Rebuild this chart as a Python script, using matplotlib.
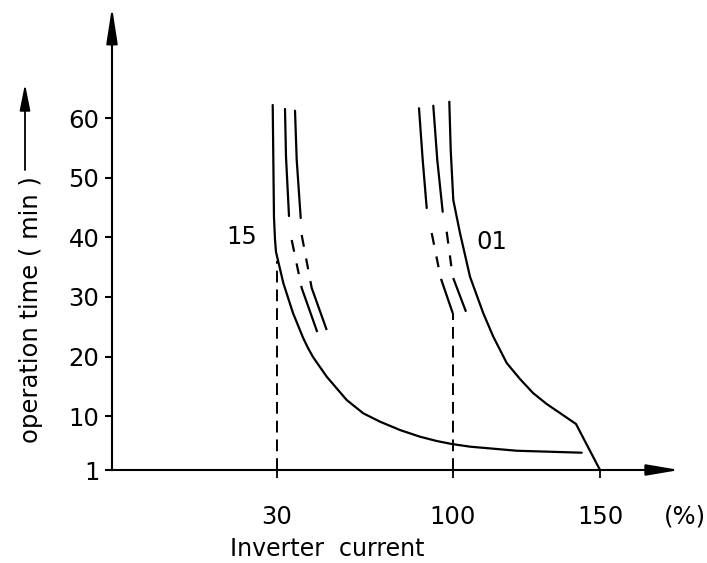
import numpy as np
import matplotlib
matplotlib.use("Agg")
import matplotlib.pyplot as plt
from matplotlib.patches import FancyArrowPatch

plt.rcParams['font.family'] = ['DejaVu Sans']
plt.rcParams['lines.scale_dashes'] = False

# ---------------- data ----------------
y_ticks = [1, 10, 20, 30, 40, 50, 60]
x_ticks = [30, 100, 150]
x_tick_labels = ["30", "100", "150"]

# curve "15"
c15_x = [29.22, 29.45, 29.64, 29.82, 32.51, 36.36, 40.46, 42.33, 44.32, 49.77,
         57.72, 64.32, 70.97, 78.92, 86.88, 93.52, 99.48, 105.78, 121.67, 143.78]
c15_y = [62.18, 43.41, 39.55, 37.54, 32.34, 27.31, 23.07, 21.45, 19.94, 16.64,
         12.73, 10.50, 9.10, 7.70, 6.58, 5.86, 5.36, 4.91, 4.23, 3.90]

# two companion lines right of "15" (solid upper part, dashed lower part)
b_solid_x = [33.18, 33.58, 34.77]
b_solid_y = [61.51, 53.51, 43.57]
b_dash_x = [35.85, 39.82, 46.00]
b_dash_y = [39.55, 31.51, 24.13]

c_solid_x = [37.16, 37.84, 39.43]
c_solid_y = [61.22, 52.96, 43.24]
c_dash_x = [39.82, 43.80, 49.77]
c_dash_y = [40.39, 31.51, 24.47]

# curve "01"
c01_x = [98.53, 99.09, 100.10, 102.38, 105.78, 110.31, 113.71, 118.27, 122.79,
         127.21, 131.87, 136.39, 141.84, 150.0]
c01_y = [62.73, 54.64, 46.25, 40.72, 33.40, 27.26, 23.34, 18.93, 16.25,
         13.91, 12.06, 10.55, 8.71, 1.0]

# two companion lines left of "01"
d_solid_x = [86.48, 87.95, 89.54]
d_solid_y = [61.63, 52.96, 44.91]
d_dash_x = [91.53, 95.11, 99.88]
d_dash_y = [40.72, 33.18, 27.31]

e_solid_x = [92.16, 93.75, 95.90]
e_solid_y = [62.06, 52.96, 44.29]
e_dash_x = [97.49, 99.88, 104.42]
e_dash_y = [40.94, 33.40, 27.53]

# vertical dashed guides
guide_x = [30, 100]
guide_top = [36.0, 27.3]

# ---------------- scale (schematic, non-linear current axis) ----------------
XV = [-100, 0, 30, 100, 150, 300]
XP = [112 - 100 * 5.5, 112, 277, 453, 600, 600 + 150 * 2.94]


def fwd(v):
    return np.interp(v, XV, XP)


def inv(p):
    return np.interp(p, XP, XV)


W, H = 707, 563
fig = plt.figure(figsize=(W / 100, H / 100), dpi=100)
ax = fig.add_axes([0, 0, 1, 1])
ax.set_xscale('function', functions=(fwd, inv))
ax.set_xlim(inv(0), inv(W))
py = 59 / 352.0
ax.set_ylim(1 - (H - 470) * py, 1 + 470 * py)
ax.patch.set_alpha(0)

LW = 1.6
k = 'black'
ax.plot(c15_x, c15_y, color=k, lw=LW, solid_capstyle='round', solid_joinstyle='round')
ax.plot(c01_x, c01_y, color=k, lw=LW, solid_capstyle='round', solid_joinstyle='round')
for sx, sy in [(b_solid_x, b_solid_y), (c_solid_x, c_solid_y),
               (d_solid_x, d_solid_y), (e_solid_x, e_solid_y)]:
    ax.plot(sx, sy, color=k, lw=LW, solid_capstyle='round')
dash_pat = (0, (8.6, 8.6, 7.9, 8.6, 60, 10))
for dx, dy in [(b_dash_x, b_dash_y), (c_dash_x, c_dash_y),
               (d_dash_x, d_dash_y), (e_dash_x, e_dash_y)]:
    ax.plot(dx, dy, color=k, lw=LW, linestyle=dash_pat)
for gx, gt in zip(guide_x, guide_top):
    ax.plot([gx, gx], [1, gt], color=k, lw=1.4, linestyle=(0, (8.5, 5)))

# axes as arrows
for s in ['top', 'right']:
    ax.spines[s].set_visible(False)
ax.spines['left'].set_position(('data', 0))
ax.spines['bottom'].set_position(('data', 1))
ax.spines['left'].set_bounds(1, 76)
ax.spines['bottom'].set_bounds(0, 172)
ax.spines['left'].set_linewidth(1.5)
ax.spines['bottom'].set_linewidth(1.5)
ax.annotate('', xy=(0, 78.6), xytext=(0, 72), xycoords='data',
            arrowprops=dict(arrowstyle='-|>,head_length=1.1,head_width=0.17',
                            color=k, lw=1.5, mutation_scale=20,
                            shrinkA=0, shrinkB=0))
ax.annotate('', xy=(177.0, 1), xytext=(165, 1), xycoords='data',
            arrowprops=dict(arrowstyle='-|>,head_length=1.0,head_width=0.17',
                            color=k, lw=1.5, mutation_scale=20,
                            shrinkA=0, shrinkB=0))

FS = 17.5
ax.set_yticks(y_ticks)
ax.set_yticklabels([str(v) for v in y_ticks], fontsize=FS)
ax.tick_params(axis='y', direction='out', length=5, width=1.5, pad=4)
ax.set_xticks(x_ticks)
ax.set_xticklabels(x_tick_labels, fontsize=FS)
ax.tick_params(axis='x', direction='out', length=6, width=1.3, pad=19)

ax.annotate('(%)', xy=(179.0, 1), xytext=(0, -(6 + 19)),
            textcoords='offset points', ha='center', va='top', fontsize=FS)

ax.text(23.5, 40.0, '15', ha='center', va='center', fontsize=FS)
ax.text(113.3, 39.2, '01', ha='center', va='center', fontsize=FS)

fig.text(327 / W, 1 - 548.5 / H, 'Inverter  current', ha='center', va='center',
         fontsize=17)
fig.text(31 / W, 1 - 310 / H, 'operation time ( min )', rotation=90,
         ha='center', va='center', fontsize=17.5)
fig.add_artist(FancyArrowPatch((25 / W, 1 - 170 / H), (25 / W, 1 - 84 / H),
                               transform=fig.transFigure,
                               arrowstyle='-|>,head_length=1.0,head_width=0.2',
                               mutation_scale=16, color=k, lw=1.3,
                               shrinkA=0, shrinkB=0))

fig.savefig('out.png', dpi=100)
